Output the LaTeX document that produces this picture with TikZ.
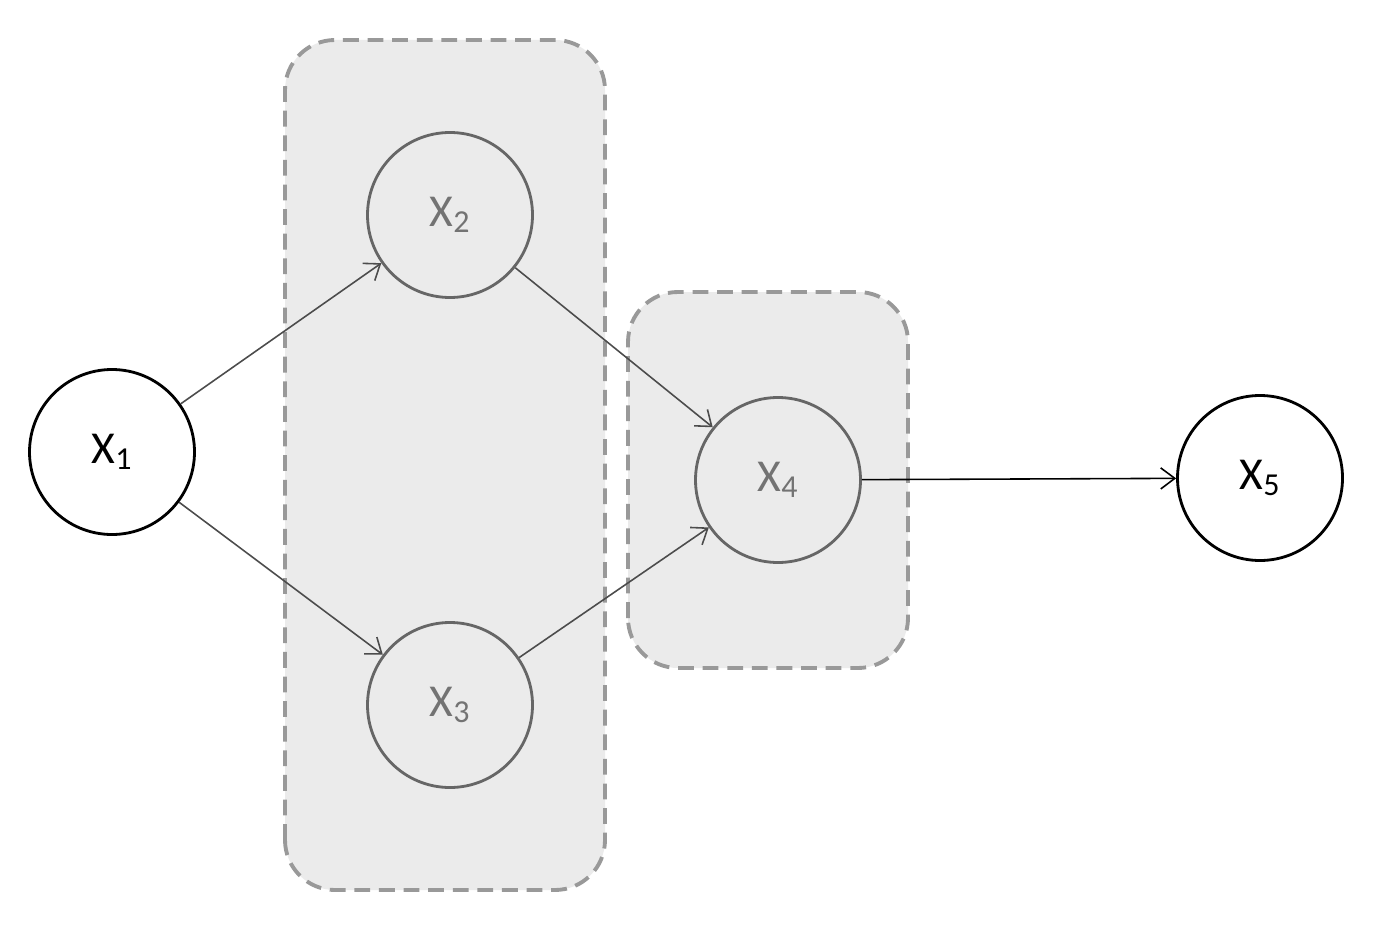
\documentclass[tikz,border=0pt]{standalone}
\usepackage{fontspec}
\setmainfont{Carlito}
\usetikzlibrary{arrows.meta}
\begin{document}
\begin{tikzpicture}[main/.style={draw,circle,line width=1.6pt,minimum size=3.3cm,font=\fontsize{26}{30}\selectfont},
  inner/.style={main,draw=black!60,text=black!55},
  group/.style={draw=black!40,dashed,dash pattern=on 9pt off 5pt,line width=2.2pt,fill=black!8,rounded corners=1cm},
  edge/.style={-{Straight Barb[length=8pt,width=12pt]},line width=0.9pt}]
	\useasboundingbox (0,0) rectangle (27.58,18.52);
	%Gruppene
	\draw[group] (5.7,0.72) rectangle (12.1,17.72);
	\draw[group] (12.56,5.16) rectangle (18.16,12.68);
	%Nodene
	\node[main] (1) at (2.24,9.48) {X\textsubscript{1}};
	\node[inner] (2) at (9.0,14.22) {X\textsubscript{2}};
	\node[inner] (3) at (9.0,4.42) {X\textsubscript{3}};
	\node[inner] (4) at (15.56,8.92) {X\textsubscript{4}};
	\node[main] (5) at (25.2,8.96) {X\textsubscript{5}};
	%Kantene
	\draw[edge,black!70] (1) -- (2);
	\draw[edge,black!70] (1) -- (3);
	\draw[edge,black!70] (2) -- (4);
	\draw[edge,black!70] (3) -- (4);
	\draw[edge] (4) -- (5);
\end{tikzpicture}
\end{document}
